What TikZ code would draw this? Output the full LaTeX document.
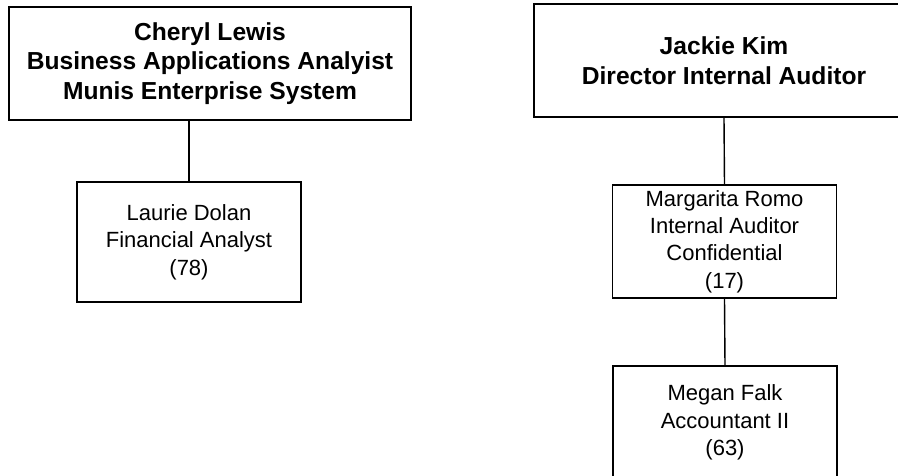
\documentclass[tikz,border=0pt]{standalone}
\usepackage{fontspec}
\setmainfont{Liberation Sans}
\begin{document}
\begin{tikzpicture}[x=1pt,y=-1pt,
  boss/.style={draw, line width=1.4pt, rectangle, inner sep=0pt, align=center,
    minimum width=#1, minimum height=113pt, font=\fontsize{24.6}{29.5}\selectfont\bfseries},
  staff/.style={draw, line width=1.4pt, rectangle, inner sep=0pt, align=center,
    minimum width=224pt, minimum height=#1, font=\fontsize{22}{27.4}\selectfont},
  link/.style={line width=1.4pt}]
\useasboundingbox (0,0) rectangle (898,476);
\clip (0,0) rectangle (898,476);
\fill[white] (0,0) rectangle (898,476);
\node[boss=402pt] (cheryl) at (210,63.5) {Cheryl Lewis\\Business Applications Analyist\\Munis Enterprise System};
\node[staff=120pt] (laurie) at (189,242) {Laurie Dolan\\Financial Analyst\\(78)};
\node[boss=380pt] (jackie) at (724,60.5) {Jackie Kim\\Director Internal Auditor};
\node[staff=113pt] (margarita) at (724.5,241.5) {Margarita Romo\\Internal Auditor\\Confidential\\(17)};
\node[staff=113pt] (megan) at (725,422.5) {Megan Falk\\Accountant II\\(63)};
\draw[link] (laurie.north) -- (laurie.north |- cheryl.south);
\draw[link] (jackie.south) -- (margarita.north);
\draw[link] (margarita.south) -- (megan.north);
\end{tikzpicture}
\end{document}
